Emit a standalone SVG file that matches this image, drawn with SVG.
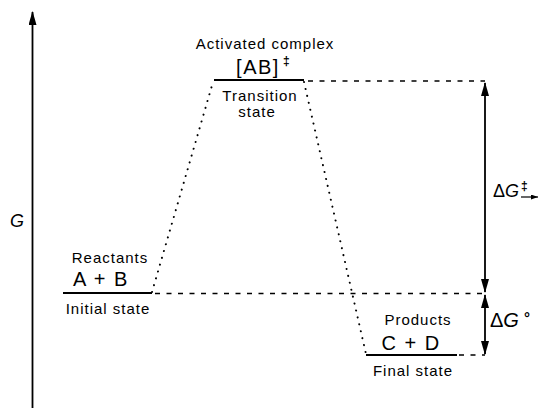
<svg xmlns="http://www.w3.org/2000/svg" width="540" height="408" viewBox="0 0 540 408">
<defs>
<marker id="ah" markerUnits="userSpaceOnUse" markerWidth="14" markerHeight="8" refX="13" refY="4" orient="auto-start-reverse"><path d="M0,0 L14,4 L0,8 z" fill="#000"/></marker>
<marker id="ahs" markerUnits="userSpaceOnUse" markerWidth="7" markerHeight="5" refX="7" refY="2.5" orient="auto"><path d="M0,0 L7,2.5 L0,5 z" fill="#000"/></marker>
<style>
text{font-family:"Liberation Sans",Arial,sans-serif;fill:#000}
.lbl{font-size:15px;letter-spacing:1px;text-anchor:middle}
.big{font-size:20px;letter-spacing:1.5px;text-anchor:middle}
.sym{font-style:italic}
.dag{font-size:12px;font-weight:bold}
.lvl{stroke:#000;stroke-width:2.2;fill:none}
.dash{stroke:#000;stroke-width:1.4;stroke-dasharray:5 6.5;fill:none}
.dot{stroke:#000;stroke-width:2;stroke-dasharray:0.1 7;stroke-linecap:round;fill:none}
.arr{stroke:#000;stroke-width:1.8;fill:none}
</style>
</defs>
<g id="axis">
<line class="arr" x1="32.5" y1="408" x2="32.5" y2="12" marker-end="url(#ah)"/>
<text x="10" y="227" font-size="18" class="sym">G</text>
</g>
<g id="connectors">
<line class="dot" x1="152" y1="292" x2="213" y2="82"/>
<line class="dot" x1="304" y1="82" x2="366" y2="354"/>
<line class="dash" x1="308" y1="81" x2="485" y2="81"/>
<line class="dash" x1="155" y1="293.5" x2="485" y2="293.5"/>
<line class="dash" x1="459" y1="355" x2="485" y2="355"/>
<line class="arr" x1="485" y1="83" x2="485" y2="292" marker-start="url(#ah)" marker-end="url(#ah)"/>
<line class="arr" x1="485" y1="295" x2="485" y2="354" marker-start="url(#ah)" marker-end="url(#ah)"/>
</g>
<g id="initial">
<line class="lvl" x1="63" y1="293" x2="152" y2="293"/>
<text class="lbl" x="110" y="263">Reactants</text>
<text class="big" x="101" y="286">A + B</text>
<text class="lbl" x="108" y="314">Initial state</text>
</g>
<g id="transition">
<line class="lvl" x1="214" y1="80" x2="304" y2="80"/>
<text class="lbl" x="265" y="49">Activated complex</text>
<text class="big" x="258" y="74">[AB]</text>
<text class="dag" x="283" y="65">‡</text>
<text class="lbl" x="260" y="101">Transition</text>
<text class="lbl" x="257" y="117">state</text>
</g>
<g id="final">
<line class="lvl" x1="366" y1="355" x2="457" y2="355"/>
<text class="lbl" x="418" y="325">Products</text>
<text class="big" x="411" y="350">C + D</text>
<text class="lbl" x="413" y="376">Final state</text>
</g>
<g id="dGact">
<text x="493" y="197" font-size="18"><tspan>Δ</tspan><tspan class="sym">G</tspan></text>
<text class="dag" x="521" y="190">‡</text>
<line x1="521" y1="197" x2="538" y2="197" stroke="#000" stroke-width="1.2" marker-end="url(#ahs)"/>
</g>
<g id="dG0">
<text x="490" y="327" font-size="20"><tspan>Δ</tspan><tspan class="sym">G</tspan></text>
<text x="524" y="323" font-size="15" font-weight="bold">°</text>
</g>
</svg>
